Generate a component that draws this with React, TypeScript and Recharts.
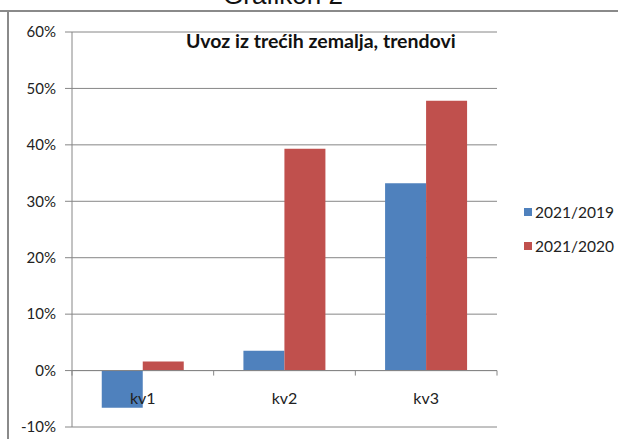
import { BarChart, Bar, XAxis, YAxis, CartesianGrid, ReferenceLine } from 'recharts'

const quarters = ['kv1', 'kv2', 'kv3']
const vs2019 = [-0.066, 0.035, 0.332]
const vs2020 = [0.016, 0.393, 0.478]
const yTicks = [-0.1, 0, 0.1, 0.2, 0.3, 0.4, 0.5, 0.6]
const seriesNames = ['2021/2019', '2021/2020']

const BLUE = '#4f81bd'
const RED = '#c0504d'
const AXIS = '#868686'
const FONT = 'Lato, "Open Sans", sans-serif'

// plot area geometry
const PLOT_LEFT = 72
const PLOT_RIGHT = 497
const PLOT_TOP = 32
const PLOT_BOTTOM = 427
const ZERO_Y = PLOT_TOP + ((PLOT_BOTTOM - PLOT_TOP) * 0.6) / 0.7
const BAND = (PLOT_RIGHT - PLOT_LEFT) / quarters.length

const data = quarters.map((q, i) => ({ name: q, a: vs2019[i], b: vs2020[i] }))

const QuarterTick = (props: any) => {
  const { x, payload, index } = props
  const ty = ZERO_Y
  return (
    <g>
      <line x1={x + BAND / 2} x2={x + BAND / 2} y1={ty} y2={ty + 5} stroke={AXIS} />
      {index === 0 && <line x1={x - BAND / 2} x2={x - BAND / 2} y1={ty} y2={ty + 5} stroke={AXIS} />}
      <text x={x} y={ty + 27} textAnchor="middle" dominantBaseline="central" fill="#222" fontSize={16} fontFamily={FONT}>
        {payload.value}
      </text>
    </g>
  )
}

export default function App() {
  return (
    <div style={{ position: 'absolute', left: 0, top: 0, width: 618, height: 439, overflow: 'hidden', background: '#fff' }}>
      <div style={{ position: 'absolute', left: 0, right: 0, top: 10, borderTop: '2px solid #8a8a8a' }} />
      <div style={{ position: 'absolute', left: 7, top: 10, bottom: 0, borderLeft: '2px solid #8a8a8a' }} />
      <div
        style={{
          position: 'absolute', left: 223, top: -20, fontFamily: '"Liberation Sans", Arial, sans-serif',
          fontSize: 26, lineHeight: '30px', color: '#111', whiteSpace: 'nowrap',
        }}
      >
        Grafikon 2
      </div>
      <div
        style={{
          position: 'absolute', left: 186, top: 29, fontFamily: FONT, fontWeight: 700, fontSize: 19.5,
          lineHeight: '24px', color: '#111', whiteSpace: 'nowrap',
        }}
      >
        Uvoz iz trećih zemalja, trendovi
      </div>
      <div style={{ position: 'absolute', left: 524, top: 195, fontFamily: FONT, fontSize: 15.5, color: '#222' }}>
        {seriesNames.map((n, i) => (
          <div key={n} style={{ display: 'flex', alignItems: 'center', height: 34 }}>
            <span style={{ width: 8, height: 8, background: i === 0 ? BLUE : RED, marginRight: 3, display: 'inline-block' }} />
            {n}
          </div>
        ))}
      </div>
      <BarChart
        width={618}
        height={439}
        data={data}
        barGap={0}
        barCategoryGap="21%"
        margin={{ top: PLOT_TOP, right: 618 - PLOT_RIGHT, bottom: 439 - PLOT_BOTTOM - 1, left: 0 }}
        style={{ position: 'absolute', left: 0, top: 0 }}
      >
        <CartesianGrid vertical={false} stroke={AXIS} />
        <XAxis dataKey="name" axisLine={false} tickLine={false} height={1} tick={<QuarterTick />} interval={0} />
        <YAxis
          domain={[-0.1, 0.6]}
          ticks={yTicks}
          width={PLOT_LEFT}
          tickSize={7}
          tickMargin={9}
          stroke={AXIS}
          tick={{ fill: '#222', fontSize: 15, fontFamily: FONT }}
          tickFormatter={(v: number) => `${Math.round(v * 100)}%`}
        />
        <ReferenceLine y={0} stroke={AXIS} />
        <Bar dataKey="a" name={seriesNames[0]} fill={BLUE} isAnimationActive={false} />
        <Bar dataKey="b" name={seriesNames[1]} fill={RED} isAnimationActive={false} />
      </BarChart>
    </div>
  )
}
